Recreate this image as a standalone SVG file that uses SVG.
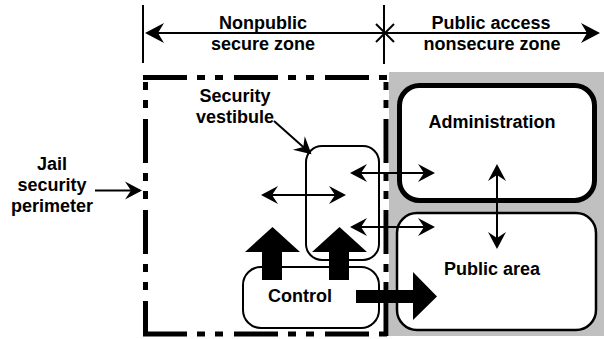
<svg xmlns="http://www.w3.org/2000/svg" width="604" height="339" viewBox="0 0 604 339">
<style>
text{font-family:"Liberation Sans",Arial,sans-serif;font-weight:bold;font-size:18px;fill:#000;text-anchor:middle}
.thin{fill:none;stroke:#000;stroke-width:2}
.dash{fill:none;stroke:#000;stroke-width:5;stroke-dasharray:44 10 8 10 8 11}
.box{fill:#fff;stroke:#000}
</style>
<defs>
<marker id="ah" viewBox="-19 -10 20 20" refX="-2" refY="0" markerWidth="20" markerHeight="20" markerUnits="userSpaceOnUse" orient="auto-start-reverse"><path d="M0,0 L-17,-9 L-11,0 L-17,9 Z" fill="#000"/></marker>
<marker id="ahb" viewBox="-20 -11 21 22" refX="-2" refY="0" markerWidth="21" markerHeight="22" markerUnits="userSpaceOnUse" orient="auto-start-reverse"><path d="M0,0 L-19,-10 L-13,0 L-19,10 Z" fill="#000"/></marker>
</defs>
<rect id="public-zone" x="389" y="72" width="215" height="264" fill="#c0c0c0"/>
<g id="perimeter">
<line class="dash" x1="143" y1="77.5" x2="389" y2="77.5"/>
<line class="dash" x1="143" y1="334" x2="389" y2="334"/>
<line class="dash" x1="145.5" y1="75" x2="145.5" y2="336" style="stroke-dashoffset:47"/>
<line class="dash" x1="386" y1="75" x2="386" y2="336" style="stroke-dashoffset:47"/>
</g>
<g id="administration">
<rect class="box" x="399.5" y="85.5" width="195" height="115" rx="20" stroke-width="5"/>
<text x="492" y="128">Administration</text>
</g>
<g id="public-area">
<rect class="box" x="397" y="213" width="199" height="117" rx="20" stroke-width="2.5"/>
<text x="492" y="275">Public area</text>
</g>
<g id="vestibule">
<rect class="box" x="306" y="146" width="73" height="114" rx="16" stroke-width="2"/>
</g>
<g id="control">
<rect class="box" x="243" y="267" width="136" height="61" rx="18" stroke-width="2"/>
<text x="300" y="302">Control</text>
</g>
<g id="labels">
<text x="263" y="29">Nonpublic</text>
<text x="263" y="50">secure zone</text>
<text x="491" y="29">Public access</text>
<text x="492" y="50">nonsecure zone</text>
<text x="235" y="102">Security</text>
<text x="235" y="123">vestibule</text>
<text x="52" y="170">Jail</text>
<text x="52" y="191">security</text>
<text x="52" y="212">perimeter</text>
</g>
<g id="connectors">
<line class="thin" x1="143" y1="5" x2="143" y2="63"/>
<line class="thin" x1="384" y1="5" x2="384" y2="64"/>
<line class="thin" x1="376" y1="24" x2="394" y2="42"/>
<line class="thin" x1="376" y1="42" x2="394" y2="24"/>
<line class="thin" x1="147" y1="33" x2="598" y2="33" marker-start="url(#ahb)" marker-end="url(#ahb)"/>
<line class="thin" x1="95" y1="190.5" x2="140" y2="190.5" marker-end="url(#ah)"/>
<line class="thin" x1="274" y1="121" x2="310" y2="153" marker-end="url(#ah)"/>
<line class="thin" x1="263" y1="195" x2="344" y2="195" marker-start="url(#ah)" marker-end="url(#ah)"/>
<line class="thin" x1="352" y1="173" x2="433" y2="173" marker-start="url(#ah)" marker-end="url(#ah)"/>
<line class="thin" x1="352" y1="227" x2="433" y2="227" marker-start="url(#ah)" marker-end="url(#ah)"/>
<line class="thin" x1="497" y1="166" x2="497" y2="247" marker-start="url(#ah)" marker-end="url(#ah)"/>
<path d="M262,280 V252 H245 L272.5,227 L300,252 H282 V280 Z" fill="#000"/>
<path d="M329,280 V252 H312 L339.5,227 L367,252 H349 V280 Z" fill="#000"/>
<path d="M356,290 H413 V272 L437,296.5 L413,320 V303 H356 Z" fill="#000"/>
</g>
</svg>
